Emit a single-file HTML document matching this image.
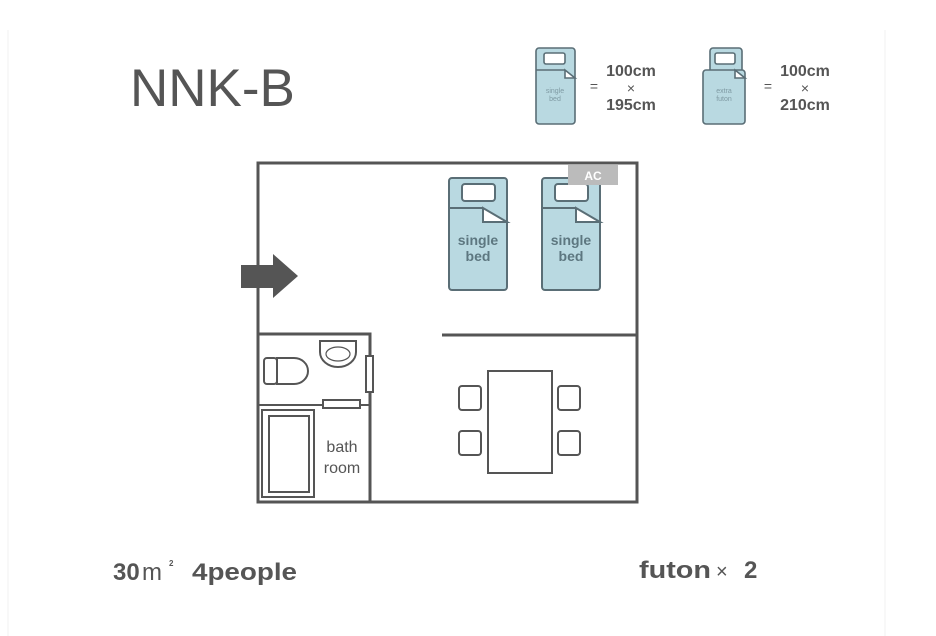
<!DOCTYPE html>
<html><head><meta charset="utf-8"><style>
html,body{margin:0;padding:0;background:#fff;}
svg{display:block;}
</style></head><body>
<svg width="936" height="636" viewBox="0 0 936 636" xmlns="http://www.w3.org/2000/svg" font-family="Liberation Sans, DejaVu Sans, sans-serif">
<rect x="0" y="0" width="936" height="636" fill="#fff"/>
<line x1="8" y1="30" x2="8" y2="636" stroke="#f2f2f2" stroke-width="1"/>
<line x1="885" y1="30" x2="885" y2="636" stroke="#f2f2f2" stroke-width="1"/>
<text x="130" y="106" font-size="53" fill="#555">NNK-B</text>

<!-- legend single bed -->
<g stroke="#5a6e76" stroke-width="1.6">
<rect x="536" y="48" width="39" height="76" rx="3" fill="#b9d9e1"/>
<rect x="544" y="53" width="21" height="11" rx="2" fill="#fff"/>
<line x1="536" y1="70" x2="565" y2="70"/>
<path d="M565 70 L575 78 L565 78 Z" fill="#fff"/>
</g>
<text x="555" y="93" font-size="7" fill="#7f9aa3" text-anchor="middle">single</text>
<text x="555" y="101" font-size="7" fill="#7f9aa3" text-anchor="middle">bed</text>
<text x="594" y="91" font-size="14" fill="#555" text-anchor="middle">=</text>
<g font-size="16" font-weight="bold" fill="#555" text-anchor="middle">
<text x="631" y="76">100cm</text>
<text x="631" y="93" font-weight="normal" font-size="14">×</text>
<text x="631" y="110">195cm</text>
</g>
<!-- legend futon -->
<g stroke="#5a6e76" stroke-width="1.6">
<rect x="710" y="48" width="32" height="30" rx="3" fill="#b9d9e1"/>
<rect x="715" y="53" width="20" height="11" rx="2" fill="#fff"/>
<rect x="703" y="70" width="42" height="54" rx="3" fill="#b9d9e1"/>
<path d="M735 70 L745 78 L735 78 Z" fill="#fff"/>
</g>
<text x="724" y="93" font-size="7" fill="#7f9aa3" text-anchor="middle">extra</text>
<text x="724" y="101" font-size="7" fill="#7f9aa3" text-anchor="middle">futon</text>
<text x="768" y="91" font-size="14" fill="#555" text-anchor="middle">=</text>
<g font-size="16" font-weight="bold" fill="#555" text-anchor="middle">
<text x="805" y="76">100cm</text>
<text x="805" y="93" font-weight="normal" font-size="14">×</text>
<text x="805" y="110">210cm</text>
</g>

<!-- room -->
<g fill="none" stroke="#555" stroke-width="3">
<rect x="258" y="163" width="379" height="339"/>
<line x1="442" y1="335" x2="637" y2="335"/>
<polyline points="258,334 370,334 370,502"/>
<line x1="258" y1="405" x2="370" y2="405" stroke-width="2"/>
</g>
<!-- arrow -->
<path d="M241 265 L273 265 L273 254 L298 276 L273 298 L273 288 L241 288 Z" fill="#555"/>
<!-- beds -->
<g stroke="#5a6e76" stroke-width="2">
<rect x="449" y="178" width="58" height="112" rx="3" fill="#b9d9e1"/>
<rect x="462" y="184" width="33" height="17" rx="3" fill="#fff"/>
<line x1="449" y1="208" x2="483" y2="208"/>
<path d="M483 208 L507 222 L483 222 Z" fill="#fff"/>
<rect x="542" y="178" width="58" height="112" rx="3" fill="#b9d9e1"/>
<rect x="555" y="184" width="33" height="17" rx="3" fill="#fff"/>
<line x1="542" y1="208" x2="576" y2="208"/>
<path d="M576 208 L600 222 L576 222 Z" fill="#fff"/>
</g>
<g font-size="14" font-weight="bold" fill="#5d7780" text-anchor="middle">
<text x="478" y="245">single</text><text x="478" y="261">bed</text>
<text x="571" y="245">single</text><text x="571" y="261">bed</text>
</g>
<!-- AC -->
<rect x="568" y="165" width="50" height="20" fill="#bbb"/>
<text x="593" y="180" font-size="12" font-weight="bold" fill="#fff" text-anchor="middle">AC</text>
<!-- table & chairs -->
<g fill="#fff" stroke="#555" stroke-width="2">
<rect x="488" y="371" width="64" height="102"/>
<rect x="459" y="386" width="22" height="24" rx="3"/>
<rect x="459" y="431" width="22" height="24" rx="3"/>
<rect x="558" y="386" width="22" height="24" rx="3"/>
<rect x="558" y="431" width="22" height="24" rx="3"/>
</g>
<!-- bathroom fixtures -->
<g fill="#fff" stroke="#555" stroke-width="2">
<rect x="264" y="358" width="13" height="26" rx="3"/>
<path d="M277 358 L294 358 A14 13 0 0 1 294 384 L277 384 Z"/>
<path d="M320 341 L356 341 L356 352 A18 15 0 0 1 320 352 Z"/>
<ellipse cx="338" cy="354" rx="12" ry="7" stroke-width="1.2"/>
<rect x="366" y="356" width="7" height="36"/>
<rect x="323" y="400" width="37" height="8"/>
<rect x="262" y="410" width="52" height="87"/>
<rect x="269" y="416" width="40" height="76"/>
</g>
<g font-size="16" fill="#555" text-anchor="middle">
<text x="342" y="452">bath</text><text x="342" y="473">room</text>
</g>
<!-- bottom -->
<g font-size="24" font-weight="bold" fill="#555">
<text x="113" y="580">30</text>
<text x="142" y="580" font-weight="normal">m</text>
<text x="169" y="566" font-size="8">2</text>
<text x="192" y="580" textLength="105" lengthAdjust="spacingAndGlyphs">4people</text>
<text x="639" y="578" textLength="72" lengthAdjust="spacingAndGlyphs">futon</text>
<text x="716" y="578" font-weight="normal" font-size="20">×</text>
<text x="744" y="578">2</text>
</g>
</svg>
</body></html>
